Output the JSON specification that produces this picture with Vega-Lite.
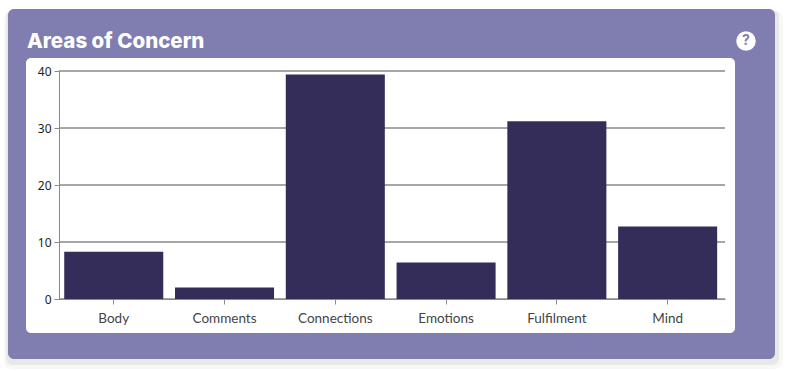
{"$schema":"https://vega.github.io/schema/vega-lite/v6.json","width":666,"height":228,"autosize":{"type":"none"},"padding":{"left":59,"top":71,"right":61,"bottom":72},"background":"#ffffff","config":{"view":{"stroke":null}},"layer":[{"data":{"values":[{"part":"shadow"}]},"mark":{"type":"rect","x":-55,"x2":724,"y":-60,"y2":298,"fill":"#000000","opacity":0.03,"cornerRadius":8}},{"data":{"values":[{"part":"shadow"}]},"mark":{"type":"rect","x":-53,"x2":720,"y":-61,"y2":294,"fill":"#000000","opacity":0.06,"cornerRadius":7}},{"data":{"values":[{"part":"card"}]},"mark":{"type":"rect","x":-51,"x2":716,"y":-62,"y2":288,"fill":"#807db0","cornerRadius":6}},{"data":{"values":[{"part":"panel"}]},"mark":{"type":"rect","x":-33,"x2":676,"y":-13,"y2":262,"fill":"#ffffff","cornerRadius":5}},{"data":{"values":[{"tick":0},{"tick":10},{"tick":20},{"tick":30},{"tick":40}]},"mark":{"type":"rule","color":"#8a8a8a","strokeWidth":1.4},"encoding":{"y":{"field":"tick","type":"quantitative","scale":{"domain":[0,40],"nice":false},"axis":{"values":[0,10,20,30,40],"grid":false,"title":null,"domainColor":"#8a8a8a","tickColor":"#8a8a8a","tickSize":5,"labelColor":"#222222","labelFont":"Noto Sans","labelFontSize":12,"labelPadding":3,"zindex":1}}}},{"data":{"values":[{"area":"Body","count":8.3},{"area":"Comments","count":2},{"area":"Connections","count":39.4},{"area":"Emotions","count":6.4},{"area":"Fulfilment","count":31.2},{"area":"Mind","count":12.7}]},"mark":{"type":"bar","color":"#342d5a"},"encoding":{"x":{"field":"area","type":"nominal","sort":null,"scale":{"paddingInner":0.106,"paddingOuter":0.059,"align":0.4},"axis":{"title":null,"labelAngle":0,"domainColor":"#8a8a8a","tickColor":"#8a8a8a","tickSize":5,"labelColor":"#444444","labelFont":"Lato","labelFontSize":13.5,"labelPadding":7,"zindex":1}},"y":{"field":"count","type":"quantitative"}}},{"data":{"values":[{"part":"help"}]},"mark":{"type":"point","x":687,"y":-30,"size":380,"filled":true,"opacity":1,"color":"#ffffff","shape":"circle"}},{"data":{"values":[{"label":"?"}]},"mark":{"type":"text","x":687,"y":-30,"align":"center","baseline":"middle","font":"Inter","fontSize":14,"fontWeight":700,"color":"#807db0"},"encoding":{"text":{"field":"label"}}},{"data":{"values":[{"heading":"Areas of Concern"}]},"mark":{"type":"text","x":-32,"y":-23,"align":"left","baseline":"alphabetic","font":"Inter","fontSize":20.5,"fontWeight":800,"color":"#ffffff"},"encoding":{"text":{"field":"heading"}}}]}
